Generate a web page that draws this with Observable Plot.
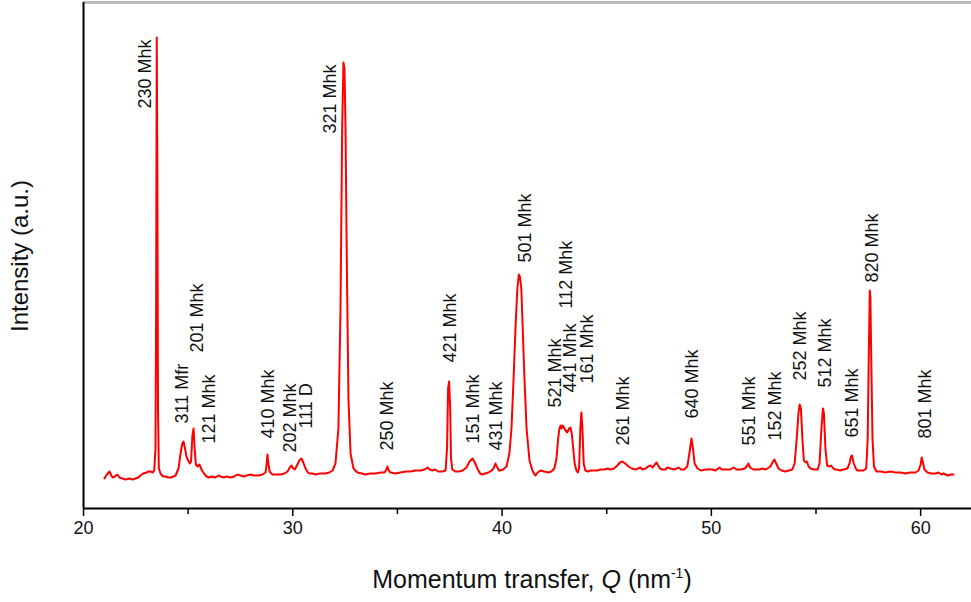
<!DOCTYPE html>
<html><head><meta charset="utf-8">
<script src="https://cdn.jsdelivr.net/npm/d3@7"></script>
<script src="https://cdn.jsdelivr.net/npm/@observablehq/plot@0.6"></script>
<style>body{margin:0;background:#fff;} svg{display:block}</style>
</head><body><div id="chart"></div>
<script>
// Momentum transfer Q (nm^-1)
const qValues = [
21.00,21.12,21.24,21.33,21.39,21.50,21.62,21.72,21.85,22.01,22.20,22.35,22.48,22.62,22.72,22.85,23.01,23.10,23.20,23.30,
23.38,23.44,23.47,23.50,23.53,23.56,23.60,23.68,23.80,23.92,24.05,24.16,24.30,24.40,24.54,24.63,24.72,24.78,24.85,24.92,
25.00,25.08,25.14,25.20,25.26,25.31,25.37,25.45,25.54,25.62,25.69,25.80,25.88,26.00,26.15,26.30,26.45,26.55,26.70,26.85,
27.02,27.20,27.35,27.50,27.65,27.80,27.98,28.15,28.36,28.55,28.70,28.76,28.79,28.83,28.89,29.03,29.20,29.41,29.60,29.75,
29.86,29.94,30.02,30.10,30.22,30.34,30.42,30.50,30.61,30.72,30.80,30.95,31.08,31.30,31.56,31.75,31.90,32.04,32.18,32.28,
32.36,32.42,32.47,32.52,32.58,32.66,32.76,32.90,33.09,33.30,33.47,33.70,33.95,34.20,34.38,34.47,34.52,34.58,34.67,34.90,
35.15,35.40,35.62,35.85,36.10,36.30,36.44,36.55,36.67,36.80,36.96,37.15,37.30,37.37,37.42,37.47,37.52,37.56,37.62,37.77,
37.95,38.11,38.30,38.45,38.59,38.70,38.82,38.95,39.06,39.20,39.35,39.50,39.59,39.68,39.75,39.85,39.92,40.05,40.21,40.35,
40.45,40.55,40.64,40.73,40.80,40.85,40.92,40.97,41.07,41.17,41.31,41.45,41.55,41.60,41.70,41.84,42.00,42.22,42.35,42.50,
42.60,42.68,42.74,42.80,42.84,42.90,42.95,43.03,43.11,43.20,43.27,43.33,43.40,43.47,43.55,43.62,43.68,43.74,43.79,43.84,
43.90,43.98,44.10,44.22,44.40,44.55,44.70,44.90,45.05,45.18,45.35,45.51,45.63,45.75,45.88,46.04,46.20,46.37,46.50,46.61,
46.70,46.85,46.98,47.09,47.20,47.30,47.38,47.46,47.55,47.66,47.80,47.90,48.05,48.20,48.35,48.43,48.55,48.70,48.85,48.95,
49.05,49.12,49.20,49.34,49.50,49.72,49.90,50.05,50.20,50.39,50.50,50.72,50.90,51.06,51.20,51.39,51.60,51.72,51.77,51.85,
52.00,52.11,52.30,52.44,52.60,52.82,52.92,53.01,53.10,53.21,53.35,53.54,53.70,53.87,53.98,54.08,54.16,54.22,54.28,54.35,
54.42,54.52,54.56,54.65,54.74,54.90,55.08,55.17,55.26,55.33,55.38,55.45,55.53,55.64,55.72,55.79,55.90,55.98,56.15,56.31,
56.50,56.60,56.67,56.72,56.79,56.90,56.98,57.15,57.27,57.40,57.47,57.52,57.57,57.60,57.64,57.70,57.77,57.89,58.10,58.32,
58.55,58.80,59.05,59.27,59.50,59.75,59.90,60.00,60.05,60.10,60.18,60.33,60.50,60.71,60.85,61.00,61.09,61.30,61.45,61.57
];
// Intensity (a.u.)
const intensityValues = [
30,34,37,33,31,32,34,31,30,29,30,29,30,31,33,35,36,37,37,36,
38,60,200,471,330,100,40,35,32,32,31,31,32,33,40,54,65,67,60,52,
48,45,47,72,80,60,44,42,44,40,37,34,32,31,32,31,33,32,31,32,
31,32,34,33,32,33,34,33,33,34,36,46,54,46,37,34,34,34,35,37,
41,43,40,39,44,49,50,46,40,36,35,35,34,35,35,36,38,45,80,200,
380,446,440,380,250,110,55,40,36,35,34,35,35,36,36,39,42,38,36,35,
36,37,37,38,38,39,41,39,38,39,37,37,38,60,120,127,100,50,39,37,
37,38,41,47,50,46,40,35,34,35,36,38,40,45,42,38,38,39,42,55,
80,130,180,220,234,232,220,190,130,80,48,38,34,33,36,38,37,36,37,40,
50,70,80,83,80,83,81,78,76,80,81,75,60,45,38,36,40,80,96,80,
45,38,37,38,38,38,39,39,40,39,40,43,46,47,45,42,40,39,40,41,
39,40,42,43,41,44,46,43,40,39,39,41,40,39,40,41,39,39,42,55,
70,60,45,40,38,39,39,39,38,41,39,39,39,41,39,39,40,43,45,41,
39,39,39,40,39,42,46,49,45,40,38,37,38,39,45,70,95,104,100,70,
48,46,47,42,40,39,39,45,80,100,95,60,43,42,43,41,39,39,38,39,
40,45,52,53,46,40,38,38,38,40,70,150,218,210,150,70,42,37,37,36,
37,36,36,35,36,36,38,44,51,47,39,36,35,35,36,34,35,33,34,34
];
// Peak annotations
const peakLabels = ["230 Mhk","311 Mfr","201 Mhk","121 Mhk","410 Mhk","202 Mhk","111 D","321 Mhk","250 Mhk","421 Mhk","151 Mhk","431 Mhk","501 Mhk","521 Mhk","441 Mhk","161 Mhk","112 Mhk","261 Mhk","640 Mhk","551 Mhk","152 Mhk","252 Mhk","512 Mhk","651 Mhk","820 Mhk","801 Mhk"];
const labelQ = [22.96,24.73,25.45,26.02,28.84,29.89,30.65,31.80,34.52,37.53,38.63,39.73,41.12,42.55,43.27,44.08,43.08,45.80,49.10,51.82,53.06,54.26,55.45,56.74,57.70,60.23];
const labelI = [400,85,156,65,70,56,80,375,58,146,65,58,246,101,116,125,200,63,90,63,68,128,121,71,226,70];
const majorTicks = [20,30,40,50,60];
const minorTicks = [25,35,45,55];

const curve = qValues.map((q, i) => ({q, i: intensityValues[i]}));
const labels = peakLabels.map((t, k) => ({t, q: labelQ[k], i: labelI[k]}));

const chart = Plot.plot({
  width: 971, height: 602,
  marginLeft: 83, marginRight: 0, marginTop: 2, marginBottom: 94,
  x: {domain: [20, 62.43]},
  y: {domain: [0, 506]},
  style: {fontFamily: "'Liberation Sans', Arial, sans-serif", background: "white", color: "#111"},
  marks: [
    Plot.ruleY([506], {stroke: "#bbb", strokeWidth: 3}),
    Plot.line(curve, {x: "q", y: "i", stroke: "#ff0000", strokeWidth: 2}),
    Plot.text(labels, {x: "q", y: "i", text: "t", rotate: -90, textAnchor: "start", fontSize: 18, fill: "#111"}),
    Plot.axisX({ticks: majorTicks, tickSize: 8, tickPadding: 5, fontSize: 18, label: null, stroke: "#000", strokeWidth: 1.5}),
    Plot.axisX({ticks: minorTicks, tickSize: 6, tickFormat: () => "", label: null, stroke: "#000", strokeWidth: 1.5}),
    Plot.axisY({ticks: [], label: null}),
    Plot.ruleX([20], {stroke: "#000", strokeWidth: 2}),
    Plot.ruleY([0], {stroke: "#000", strokeWidth: 2})
  ]
});
document.getElementById("chart").append(chart);

const svg = d3.select(chart);
const xt = svg.append("text")
  .attr("x", 532).attr("y", 588)
  .attr("text-anchor", "middle")
  .attr("font-size", 25).attr("fill", "#111")
  .attr("font-family", "'Liberation Sans', Arial, sans-serif");
xt.append("tspan").text("Momentum transfer, ");
xt.append("tspan").attr("font-style", "italic").text("Q");
xt.append("tspan").text(" (nm");
xt.append("tspan").attr("font-size", 14).attr("dy", -10).text("-1");
xt.append("tspan").attr("dy", 10).text(")");

svg.append("text")
  .attr("transform", "translate(22,256) rotate(-90)")
  .attr("text-anchor", "middle").attr("dominant-baseline", "middle")
  .attr("font-size", 24).attr("fill", "#111")
  .attr("font-family", "'Liberation Sans', Arial, sans-serif")
  .text("Intensity (a.u.)");
</script>
</body></html>
